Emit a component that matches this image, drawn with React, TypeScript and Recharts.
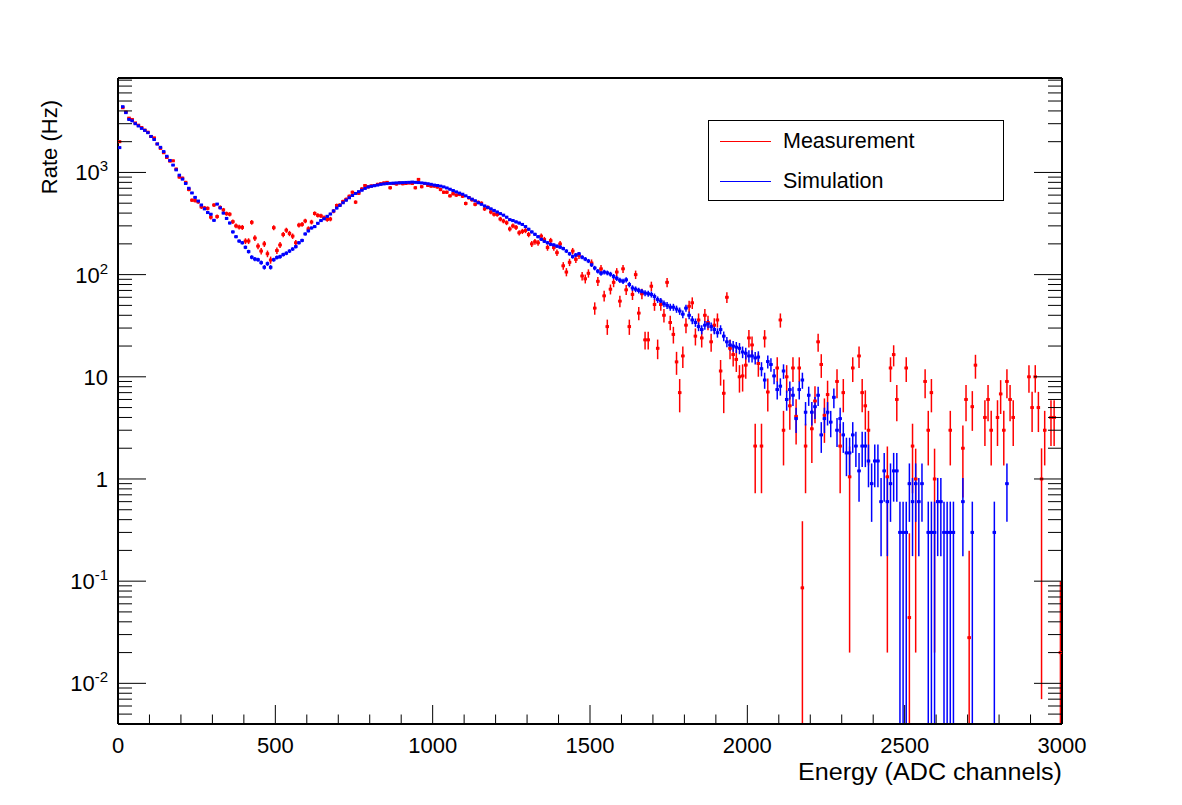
import { ScatterChart, Scatter, XAxis, YAxis, ErrorBar, Legend, Label } from "recharts";

const FONT = "'Liberation Sans', Arial, Helvetica, sans-serif";

// 300 bins of 10 ADC channels, value drawn at the bin centre
const binCenters = Array.from({ length: 300 }, (_, i) => i * 10 + 5);

// rate in Hz per bin, null = empty bin (not drawn)
const measurement: (number | null)[] = [
  2000, 4300, 3900, 3400, 3300, 3050, 2900, 2750, 2600, 2480,
  2250, 2180, 1900, 1720, 1560, 1400, 1290, 1300, 1080, 900,
  880, 800, 680, 535, 530, 515, 460, 450, 445, 365,
  480, 370, 455, 430, 395, 390, 330, 300, 292, 290,
  213, 213, 325, 228, 190, 170, 200, 160, 139, 288,
  172, 195, 247, 272, 253, 238, 205, 305, 310, 335,
  281, 327, 397, 380, 376, 360, 347, 350, 418, 475,
  480, 520, 545, 585, 640, 512, 625, 690, 745, 722,
  738, 745, 765, 775, 790, 800, 708, 780, 770, 790,
  775, 780, 790, 780, 708, 855, 725, 780, 745, 735,
  735, 720, 680, 640, 640, 590, 620, 600, 610, 585,
  497, 565, 540, 487, 510, 500, 440, 455, 410, 390,
  388, 350, 335, 322, 280, 300, 290, 257, 265, 270,
  247, 200, 210, 205, 238, 220, 184, 215, 184, 164,
  200, 122, 106, 132, 170, 141, 154, 97, 91, 103,
  130, 47, 86, 114, 62, 31, 72, 84, 106, 55,
  114, 71, 31, 64, 100, 42, 65, 23, 23, 77,
  51, 19, 51, 40, 84, 34, 26, 14, 7, 16,
  32, 49, 53, 25, 36, 24, 40, 34, 22, 32,
  36, 11.4, 6.9, 60, 19, 16.5, 14.8, 10, 10.2, 13,
  24, 20.5, 2.1, 13.5, 2.1, 24, 7.1, null, null, 12.2,
  36, 3, 10, 5.2, 12.2, 4.1, 12.2, 0.086, 2.1, null,
  3.1, 5.8, 22, 13.2, 4.2, 6.7, null, null, 9, 2.1,
  7, null, 1.05, 12.2, null, 16, 7, 5.2, 3, null,
  null, null, null, null, 1.05, 12.2, 16.5, 6, null, null,
  12.2, 0.044, 2.1, 1.0, null, null, 9, 3, 7, 1,
  null, null, null, null, 3, null, null, null, 2, 6,
  0.028, 5.1, 13, null, null, 4, 6, 3, null, 4,
  6.8, 3, 9, 6, 4, null, null, null, null, 10,
  5, 10, 5, 1, 3, null, 4, 4, null, 0.02,
];

const simulation: (number | null)[] = [
  1750, 4400, 3850, 3300, 3200, 3000, 2850, 2700, 2580, 2450,
  2250, 2100, 1900, 1760, 1600, 1440, 1310, 1180, 1060, 940,
  860, 780, 700, 630, 570, 525, 480, 440, 405, 390,
  340, 490, 450, 400, 355, 320, 262, 235, 213, 205,
  185, 168, 148, 142, 140, 131, 118, 128, 118, 140,
  147, 150, 157, 162, 170, 178, 188, 205, 216, 250,
  268, 286, 295, 318, 338, 352, 372, 392, 420, 448,
  475, 505, 535, 565, 595, 623, 648, 670, 698, 722,
  732, 742, 752, 765, 772, 778, 782, 786, 790, 792,
  795, 798, 800, 805, 800, 796, 790, 783, 775, 765,
  752, 745, 735, 722, 705, 685, 665, 645, 628, 612,
  590, 568, 548, 528, 505, 488, 470, 455, 440, 425,
  410, 395, 382, 365, 345, 338, 328, 320, 310, 295,
  278, 262, 248, 235, 222, 212, 205, 198, 195, 190,
  186, 180, 170, 160, 150, 156, 160, 148, 142, 136,
  125, 116, 108, 103, 106, 104, 101, 96, 92, 88,
  86, 89, 80, 74, 72, 70, 68, 66, 65, 64,
  61, 57, 55, 52, 50, 48, 48, 46, 44, 41,
  47, 40, 36, 34, 31, 29, 32, 33, 31, 29,
  27, 29, 25, 22, 20.5, 20, 19.5, 19, 17.5, 17,
  16, 16, 15.3, 15.6, 12, 9.3, 14.1, 13.2, 10.2, 7.5,
  8.1, 11.4, 6, 7.5, 6.6, 3.9, 7.5, 9.3, 4.5, 6.6,
  4.5, 5.1, 6.6, 2.7, 3.9, 4.5, 3.6, 6.3, 3.0, 3.9,
  2.7, 1.8, 1.8, 2.7, 2.1, 1.2, 2.1, 2.1, 1.5, 0.9,
  1.5, 1.5, 0.6, 1.2, 0.6, 0.9, 1.2, 1.2, 0.3, 0.3,
  0.3, 0.9, 0.6, 0.9, 0.6, 0.9, null, 0.3, 0.3, 0.3,
  0.6, 0.6, 0.3, 0.3, 0.3, 0.3, null, null, 0.6, null,
  null, 0.3, null, null, null, null, null, null, 0.3, null,
  null, null, 0.9, null, null, null, null, null, null, null,
  null, null, null, null, null, null, null, null, null, null,
];

// Hz per recorded count, for the Poisson error bars
const MEAS_PER_COUNT = 0.9;
const SIM_PER_COUNT = 0.3;
// background-subtracted bins whose error is not sqrt(N)
const measurementErrorOverrides: Record<number, number> = {
  217: 0.3, 232: 1.03, 244: 1.03, 251: 0.25, 253: 0.98, 259: 0.98, 270: 0.17, 293: 0.993, 299: 0.08,
};

const xTicks = Array.from({ length: 31 }, (_, i) => i * 100);
const Y_MIN = 0.004;
const Y_MAX = 8400;
const yTicks: number[] = [];
[0.001, 0.01, 0.1, 1, 10, 100, 1000].forEach((d) => {
  for (let m = 1; m <= 9; m++) {
    const v = +(m * d).toPrecision(6);
    if (v >= Y_MIN && v <= Y_MAX) yTicks.push(v);
  }
});

function buildRows(values: (number | null)[], perCount: number, overrides: Record<number, number> = {}) {
  const rows: { x: number; y: number; ex: number; ey: [number, number] }[] = [];
  values.forEach((v, i) => {
    if (v == null) return;
    const err = overrides[i] ?? Math.sqrt(v * perCount);
    const low = v - err > Y_MIN ? err : v - Y_MIN;
    rows.push({ x: binCenters[i], y: v, ex: 5, ey: [low, err] });
  });
  return rows;
}

const measRows = buildRows(measurement, MEAS_PER_COUNT, measurementErrorOverrides);
const simRows = buildRows(simulation, SIM_PER_COUNT);

const isDecade = (v: number) => Math.abs(Math.log10(v) - Math.round(Math.log10(v))) < 1e-6;

const XTick = ({ x, y, payload, top }: any) => {
  const v = payload.value;
  const major = v % 500 === 0;
  const len = major ? 19 : 9.5;
  return (
    <g>
      <line x1={x} x2={x} y1={y} y2={top ? y + len : y - len} stroke="#000" />
      {!top && major && (
        <text x={x} y={y + 29} textAnchor="middle" fontSize={22} fontFamily={FONT} fill="#000">
          {v}
        </text>
      )}
    </g>
  );
};

const YTick = ({ x, y, payload, right }: any) => {
  const v = payload.value;
  const major = isDecade(v);
  const len = major ? 28 : 14;
  const exp = Math.round(Math.log10(v));
  return (
    <g>
      <line x1={x} x2={right ? x - len : x + len} y1={y} y2={y} stroke="#000" />
      {!right && major && (
        <text x={x - 10} y={y + 8} textAnchor="end" fontSize={22} fontFamily={FONT} fill="#000">
          {exp === 0 ? "1" : exp === 1 ? "10" : (
            <>
              10<tspan dy={-9} fontSize={15}>{exp}</tspan>
            </>
          )}
        </text>
      )}
    </g>
  );
};

const renderLegend = (props: any) => {
  const { payload = [] } = props;
  return (
    <div style={{ position: "relative", width: 296, height: 81, border: "1px solid #000", background: "#fff", boxSizing: "border-box", fontFamily: FONT }}>
      {payload.map((entry: any, i: number) => (
        <div key={entry.value} style={{ position: "absolute", left: 11, top: 7 + i * 40, height: 26, display: "flex", alignItems: "center" }}>
          <span style={{ display: "inline-block", width: 51, height: 0, borderTop: `1px solid ${entry.color}`, marginRight: 12 }} />
          <span style={{ fontSize: 21.5, color: "#000", lineHeight: "26px" }}>{entry.value}</span>
        </div>
      ))}
    </div>
  );
};

const dot = (color: string) => (p: any) => (
  <rect x={p.cx - 1.7} y={p.cy - 1.5} width={3.4} height={3} fill={color} />
);

const frame = { stroke: "#000", strokeWidth: 2 };

export default function App() {
  return (
    <div style={{ position: "absolute", left: 0, top: 0, width: 1182, height: 805, background: "#fff" }}>
      <ScatterChart width={1182} height={805} margin={{ top: 77, right: 119, bottom: 80, left: 117 }}>
        <XAxis type="number" dataKey="x" domain={[0, 3000]} allowDataOverflow ticks={xTicks} interval={0}
          height={1} tickSize={0} tickMargin={0} tickLine={false} axisLine={frame} tick={<XTick />}>
          <Label content={(p: any) => (
            <text x={p.viewBox.x + p.viewBox.width} y={p.viewBox.y + 56} textAnchor="end" fontSize={23}
              textLength={264} lengthAdjust="spacingAndGlyphs" fontFamily={FONT} fill="#000">
              Energy (ADC channels)
            </text>
          )} />
        </XAxis>
        <XAxis xAxisId="top" orientation="top" type="number" domain={[0, 3000]} allowDataOverflow ticks={xTicks} interval={0}
          height={1} tickSize={0} tickMargin={0} tickLine={false} axisLine={frame} tick={<XTick top />} />
        <YAxis type="number" dataKey="y" scale="log" domain={[Y_MIN, Y_MAX]} allowDataOverflow ticks={yTicks} interval={0}
          width={1} tickSize={0} tickMargin={0} tickLine={false} axisLine={frame} tick={<YTick />}>
          <Label content={(p: any) => (
            <text transform={`translate(${p.viewBox.x - 60},${p.viewBox.y + 22}) rotate(-90)`} textAnchor="end" fontSize={22} fontFamily={FONT} fill="#000">
              Rate (Hz)
            </text>
          )} />
        </YAxis>
        <YAxis yAxisId="right" orientation="right" type="number" scale="log" domain={[Y_MIN, Y_MAX]} allowDataOverflow ticks={yTicks} interval={0}
          width={1} tickSize={0} tickMargin={0} tickLine={false} axisLine={frame} tick={<YTick right />} />
        <Legend layout="vertical" align="center" verticalAlign="middle" content={renderLegend}
          wrapperStyle={{ left: 708, top: 120, width: 296, height: 81 }} />
        <Scatter name="Measurement" data={measRows} fill="#ff0000" shape={dot("#ff0000")} isAnimationActive={false}>
          <ErrorBar direction="y" dataKey="ey" width={0} stroke="#ff0000" strokeWidth={1.5} isAnimationActive={false} />
          <ErrorBar direction="x" dataKey="ex" width={0} stroke="#ff0000" strokeWidth={1.8} isAnimationActive={false} />
        </Scatter>
        <Scatter name="Simulation" data={simRows} fill="#0000ff" shape={dot("#0000ff")} isAnimationActive={false}>
          <ErrorBar direction="y" dataKey="ey" width={0} stroke="#0000ff" strokeWidth={1.5} isAnimationActive={false} />
          <ErrorBar direction="x" dataKey="ex" width={0} stroke="#0000ff" strokeWidth={1.8} isAnimationActive={false} />
        </Scatter>
      </ScatterChart>
    </div>
  );
}
